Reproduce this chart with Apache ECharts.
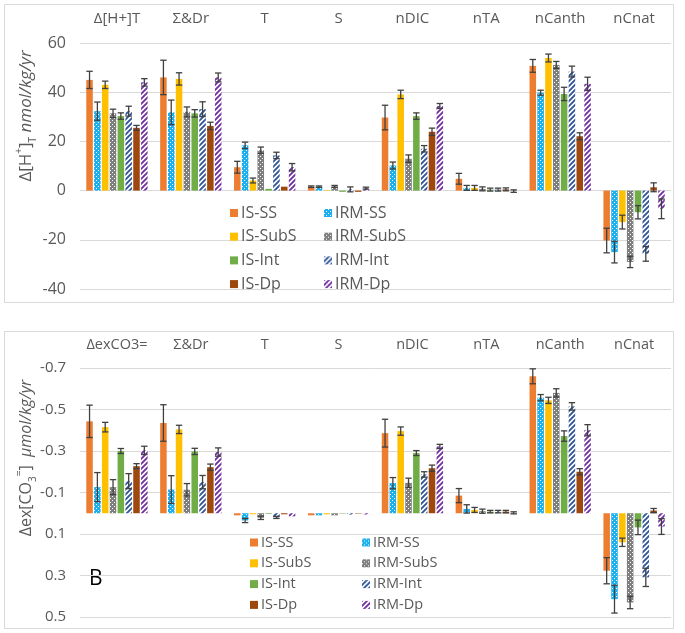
<!DOCTYPE html>
<html><head><meta charset="utf-8">
<script src="https://cdn.jsdelivr.net/npm/echarts@6/dist/echarts.min.js"></script>
<style>html,body{margin:0;padding:0;background:#fff}#c{width:685px;height:633px}</style>
</head><body><div id="c"></div><script>
// ---------- DATA ----------
const categoriesTop = ['Δ[H+]T', 'Σ&Dr', 'T', 'S', 'nDIC', 'nTA', 'nCanth', 'nCnat'];
const categoriesBottom = ['ΔexCO3=', 'Σ&Dr', 'T', 'S', 'nDIC', 'nTA', 'nCanth', 'nCnat'];
const seriesNames = ['IS-SS', 'IRM-SS', 'IS-SubS', 'IRM-SubS', 'IS-Int', 'IRM-Int', 'IS-Dp', 'IRM-Dp'];
const legendIS = ['IS-SS', 'IS-SubS', 'IS-Int', 'IS-Dp'];
const legendIRM = ['IRM-SS', 'IRM-SubS', 'IRM-Int', 'IRM-Dp'];
const yTicksTop = [-40, -20, 0, 20, 40, 60];
const yTicksBottom = [-0.7, -0.5, -0.3, -0.1, 0.1, 0.3, 0.5];

// Panel A: Δ[H+]T (nmol/kg/yr)
const h_IS_SS      = [45, 46, 9.5, 1.6, 29.7, 4.8, 50.7, -20.3];
const h_IS_SS_err  = [3.5, 7, 2.4, 0.3, 5, 2.2, 2.6, 5];
const h_IRM_SS     = [32.3, 31.8, 18.4, 1.6, 10.2, 1.1, 39.8, -25];
const h_IRM_SS_err = [3.7, 5, 1.3, 0.3, 1.4, 1, 1, 4.4];
const h_IS_SubS     = [43, 45.4, 4.1, 0.2, 39.1, 1.1, 53.9, -12.8];
const h_IS_SubS_err = [1.5, 2.5, 1, 0, 1.7, 1, 1.6, 2.8];
const h_IRM_SubS     = [31.4, 32, 16.4, 1.7, 13, 0.7, 51.1, -29];
const h_IRM_SubS_err = [1.7, 2, 1.3, 0.4, 1.5, 0.8, 1.4, 2.3];
const h_IS_Int      = [30.3, 31.4, 0.7, -0.5, 30.3, 0.4, 39.3, -8.8];
const h_IS_Int_err  = [1.3, 1.5, 0, 0, 1.3, 0.6, 2.7, 2.7];
const h_IRM_Int     = [32.3, 33.1, 14.3, 0.5, 17, 0.4, 48.4, -25.7];
const h_IRM_Int_err = [2, 3, 1.3, 1, 1.3, 0.6, 2.2, 3];
const h_IS_Dp       = [25.5, 26.3, 1.6, -0.5, 23.9, 0.5, 22.1, 1.35];
const h_IS_Dp_err   = [1, 1.5, 0, 0, 1.5, 0.6, 1.4, 1.8];
const h_IRM_Dp      = [44, 46, 9.5, 1, 34.4, -0.2, 43.4, -7.4];
const h_IRM_Dp_err  = [1.5, 1.8, 1.5, 0.4, 1, 0.5, 2.7, 4];

// Panel B: Δex[CO3=] (µmol/kg/yr)
const c_IS_SS      = [-0.443, -0.435, 0.01, 0.01, -0.386, -0.085, -0.66, 0.277];
const c_IS_SS_err  = [0.078, 0.088, 0, 0, 0.067, 0.034, 0.036, 0.063];
const c_IRM_SS     = [-0.126, -0.114, 0.035, 0.01, -0.145, -0.021, -0.557, 0.414];
const c_IRM_SS_err = [0.07, 0.067, 0.01, 0, 0.027, 0.02, 0.015, 0.067];
const c_IS_SubS     = [-0.415, -0.404, 0.005, 0.005, -0.396, -0.016, -0.544, 0.14];
const c_IS_SubS_err = [0.023, 0.02, 0, 0, 0.02, 0.012, 0.015, 0.02];
const c_IRM_SubS     = [-0.126, -0.113, 0.022, 0.01, -0.147, -0.01, -0.58, 0.43];
const c_IRM_SubS_err = [0.036, 0.03, 0.008, 0, 0.022, 0.01, 0.02, 0.03];
const c_IS_Int      = [-0.3, -0.298, 0.003, 0.002, -0.29, -0.008, -0.372, 0.068];
const c_IS_Int_err  = [0.012, 0.015, 0, 0, 0.012, 0.006, 0.025, 0.035];
const c_IRM_Int     = [-0.155, -0.15, 0.02, 0.006, -0.187, -0.008, -0.515, 0.309];
const c_IRM_Int_err = [0.036, 0.032, 0.005, 0, 0.013, 0.006, 0.018, 0.044];
const c_IS_Dp       = [-0.227, -0.222, 0.005, 0.002, -0.217, -0.008, -0.2, -0.013];
const c_IS_Dp_err   = [0.012, 0.015, 0, 0, 0.015, 0.006, 0.015, 0.01];
const c_IRM_Dp      = [-0.303, -0.295, 0.015, 0.006, -0.322, -0.002, -0.4, 0.064];
const c_IRM_Dp_err  = [0.02, 0.02, 0, 0, 0.01, 0.005, 0.027, 0.038];

const topValues = [h_IS_SS, h_IRM_SS, h_IS_SubS, h_IRM_SubS, h_IS_Int, h_IRM_Int, h_IS_Dp, h_IRM_Dp];
const topErrors = [h_IS_SS_err, h_IRM_SS_err, h_IS_SubS_err, h_IRM_SubS_err, h_IS_Int_err, h_IRM_Int_err, h_IS_Dp_err, h_IRM_Dp_err];
const botValues = [c_IS_SS, c_IRM_SS, c_IS_SubS, c_IRM_SubS, c_IS_Int, c_IRM_Int, c_IS_Dp, c_IRM_Dp];
const botErrors = [c_IS_SS_err, c_IRM_SS_err, c_IS_SubS_err, c_IRM_SubS_err, c_IS_Int_err, c_IRM_Int_err, c_IS_Dp_err, c_IRM_Dp_err];

// ---------- STYLES ----------
function dotPattern(bg, fg) {
  const cv = document.createElement('canvas'); cv.width = 4; cv.height = 4;
  const g = cv.getContext('2d');
  g.fillStyle = bg; g.fillRect(0, 0, 4, 4);
  g.fillStyle = fg; g.fillRect(0, 0, 1, 1); g.fillRect(2, 2, 1, 1);
  return { image: cv, repeat: 'repeat' };
}
function stripePattern(fg) {
  const s = 5;
  const cv = document.createElement('canvas'); cv.width = s; cv.height = s;
  const g = cv.getContext('2d');
  g.fillStyle = '#ffffff'; g.fillRect(0, 0, s, s);
  g.strokeStyle = fg; g.lineWidth = 1.9;
  g.beginPath();
  g.moveTo(-1, s + 1); g.lineTo(s + 1, -1);
  g.moveTo(-1, 1); g.lineTo(1, -1);
  g.moveTo(s - 1, s + 1); g.lineTo(s + 1, s - 1);
  g.stroke();
  return { image: cv, repeat: 'repeat' };
}
const fills = [
  '#ED7D31',
  dotPattern('#1CB0EE', '#ffffff'),
  '#FFC000',
  dotPattern('#7F7F7F', '#ffffff'),
  '#70AD47',
  stripePattern('#2F5597'),
  '#9E480E',
  stripePattern('#7030A0')
];

const CAT_GAP = 0.17, BAR_GAP = 0.2, N = 8;
const TXT = '#595959';
const FONT = '"Open Sans", "Noto Sans", sans-serif';

function errRender(params, api) {
  const cat = api.value(0), val = api.value(1), err = api.value(2), idx = api.value(3);
  if (!err) return;
  const bw = api.size([1, 0])[0];
  const usable = bw * (1 - CAT_GAP);
  const w = usable / (N + (N - 1) * BAR_GAP);
  const c = api.coord([cat, val]);
  const cx = c[0] - usable / 2 + idx * w * (1 + BAR_GAP) + w / 2;
  const y1 = api.coord([cat, val + err])[1];
  const y2 = api.coord([cat, val - err])[1];
  const cap = 3.2;
  const st = { stroke: '#404040', lineWidth: 1.3 };
  return {
    type: 'group',
    children: [
      { type: 'line', shape: { x1: cx, y1: y1, x2: cx, y2: y2 }, style: st },
      { type: 'line', shape: { x1: cx - cap, y1: y1, x2: cx + cap, y2: y1 }, style: st },
      { type: 'line', shape: { x1: cx - cap, y1: y2, x2: cx + cap, y2: y2 }, style: st }
    ]
  };
}

const series = [];
[[topValues, topErrors, 0], [botValues, botErrors, 1]].forEach(([vals, errs, gi]) => {
  seriesNames.forEach((name, i) => {
    series.push({
      name, type: 'bar', xAxisIndex: gi, yAxisIndex: gi,
      data: vals[i], barCategoryGap: (CAT_GAP * 100) + '%', barGap: (BAR_GAP * 100) + '%',
      itemStyle: { color: fills[i] }, z: 2
    });
  });
  const errData = [];
  seriesNames.forEach((name, i) => {
    vals[i].forEach((v, k) => errData.push([k, v, errs[i][k], i]));
  });
  series.push({
    type: 'custom', xAxisIndex: gi, yAxisIndex: gi, renderItem: errRender,
    data: errData, encode: { x: 0, y: 1 }, z: 5, silent: true
  });
});

function legend(names, left, top, fs, gap) {
  return {
    data: names, orient: 'vertical', left, top, itemWidth: 8, itemHeight: 8, itemGap: gap,
    icon: 'rect', selectedMode: false, padding: 0,
    textStyle: { color: TXT, fontSize: fs, fontFamily: FONT, padding: [0, 0, 0, -2] }
  };
}

const chart = echarts.init(document.getElementById('c'), null, { renderer: 'canvas' });
chart.setOption({
  backgroundColor: '#ffffff',
  animation: false,
  grid: [
    { left: 80, right: 14, top: 43, height: 246 },
    { left: 80, right: 14, top: 368, height: 249 }
  ],
  xAxis: [
    { gridIndex: 0, type: 'category', data: categoriesTop, position: 'top',
      axisLine: { show: false }, axisTick: { show: false },
      axisLabel: { interval: 0, color: TXT, fontSize: 15, fontFamily: FONT, margin: 17 } },
    { gridIndex: 1, type: 'category', data: categoriesBottom, position: 'top',
      axisLine: { show: false }, axisTick: { show: false },
      axisLabel: { interval: 0, color: TXT, fontSize: 14.5, fontFamily: FONT, margin: 16 } }
  ],
  yAxis: [
    { gridIndex: 0, type: 'value', min: yTicksTop[0], max: yTicksTop[yTicksTop.length - 1], interval: 20,
      axisLine: { show: false }, axisTick: { show: false },
      axisLabel: { color: TXT, fontSize: 16, fontFamily: FONT, margin: 14 },
      splitLine: { lineStyle: { color: '#D9D9D9', width: 1 } } },
    { gridIndex: 1, type: 'value', inverse: true, min: yTicksBottom[0], max: yTicksBottom[yTicksBottom.length - 1], interval: 0.2,
      axisLine: { show: false }, axisTick: { show: false },
      axisLabel: { color: TXT, fontSize: 15, fontFamily: FONT, margin: 14, formatter: v => (+v).toFixed(1) },
      splitLine: { lineStyle: { color: '#D9D9D9', width: 1 } } }
  ],
  legend: [
    legend(legendIS, 230, 205, 16, 7.7),
    legend(legendIRM, 324, 205, 16, 7.7),
    legend(legendIS, 250, 535, 14.5, 5.8),
    legend(legendIRM, 362, 535, 14.5, 5.8)
  ],
  graphic: [
    { type: 'rect', shape: { x: 4.5, y: 4.5, width: 669, height: 298 }, style: { fill: 'none', stroke: '#D9D9D9', lineWidth: 1 }, silent: true },
    { type: 'rect', shape: { x: 4.5, y: 331.5, width: 669, height: 297 }, style: { fill: 'none', stroke: '#D9D9D9', lineWidth: 1 }, silent: true },
    { type: 'text', x: 26, y: 116, rotation: Math.PI / 2, silent: true,
      style: { text: 'Δ[H{sup|+}]{sub|T} {it|nmol/kg/yr}', align: 'center', verticalAlign: 'middle',
        fill: TXT, fontSize: 17, fontFamily: FONT, lineHeight: 24,
        rich: {
          sup: { fontSize: 10, fill: TXT, verticalAlign: 'top', lineHeight: 24, fontFamily: FONT },
          sub: { fontSize: 10, fill: TXT, verticalAlign: 'bottom', lineHeight: 24, fontFamily: FONT },
          it: { fontSize: 17, fontStyle: 'italic', fill: TXT, lineHeight: 24, fontFamily: FONT }
        } } },
    { type: 'text', x: 26, y: 458, rotation: Math.PI / 2, silent: true,
      style: { text: 'Δex[CO{sub|3}{sup|=}]  {it|μmol/kg/yr}', align: 'center', verticalAlign: 'middle',
        fill: TXT, fontSize: 16, fontFamily: FONT, lineHeight: 24,
        rich: {
          sup: { fontSize: 10, fill: TXT, verticalAlign: 'top', lineHeight: 24, fontFamily: FONT },
          sub: { fontSize: 10, fill: TXT, verticalAlign: 'bottom', lineHeight: 24, fontFamily: FONT },
          it: { fontSize: 16, fontStyle: 'italic', fill: TXT, lineHeight: 24, fontFamily: FONT }
        } } },
    { type: 'text', x: 89, y: 569, silent: true,
      style: { text: 'B', fill: '#000000', fontSize: 21, fontFamily: FONT } }
  ],
  series
});
</script></body></html>
